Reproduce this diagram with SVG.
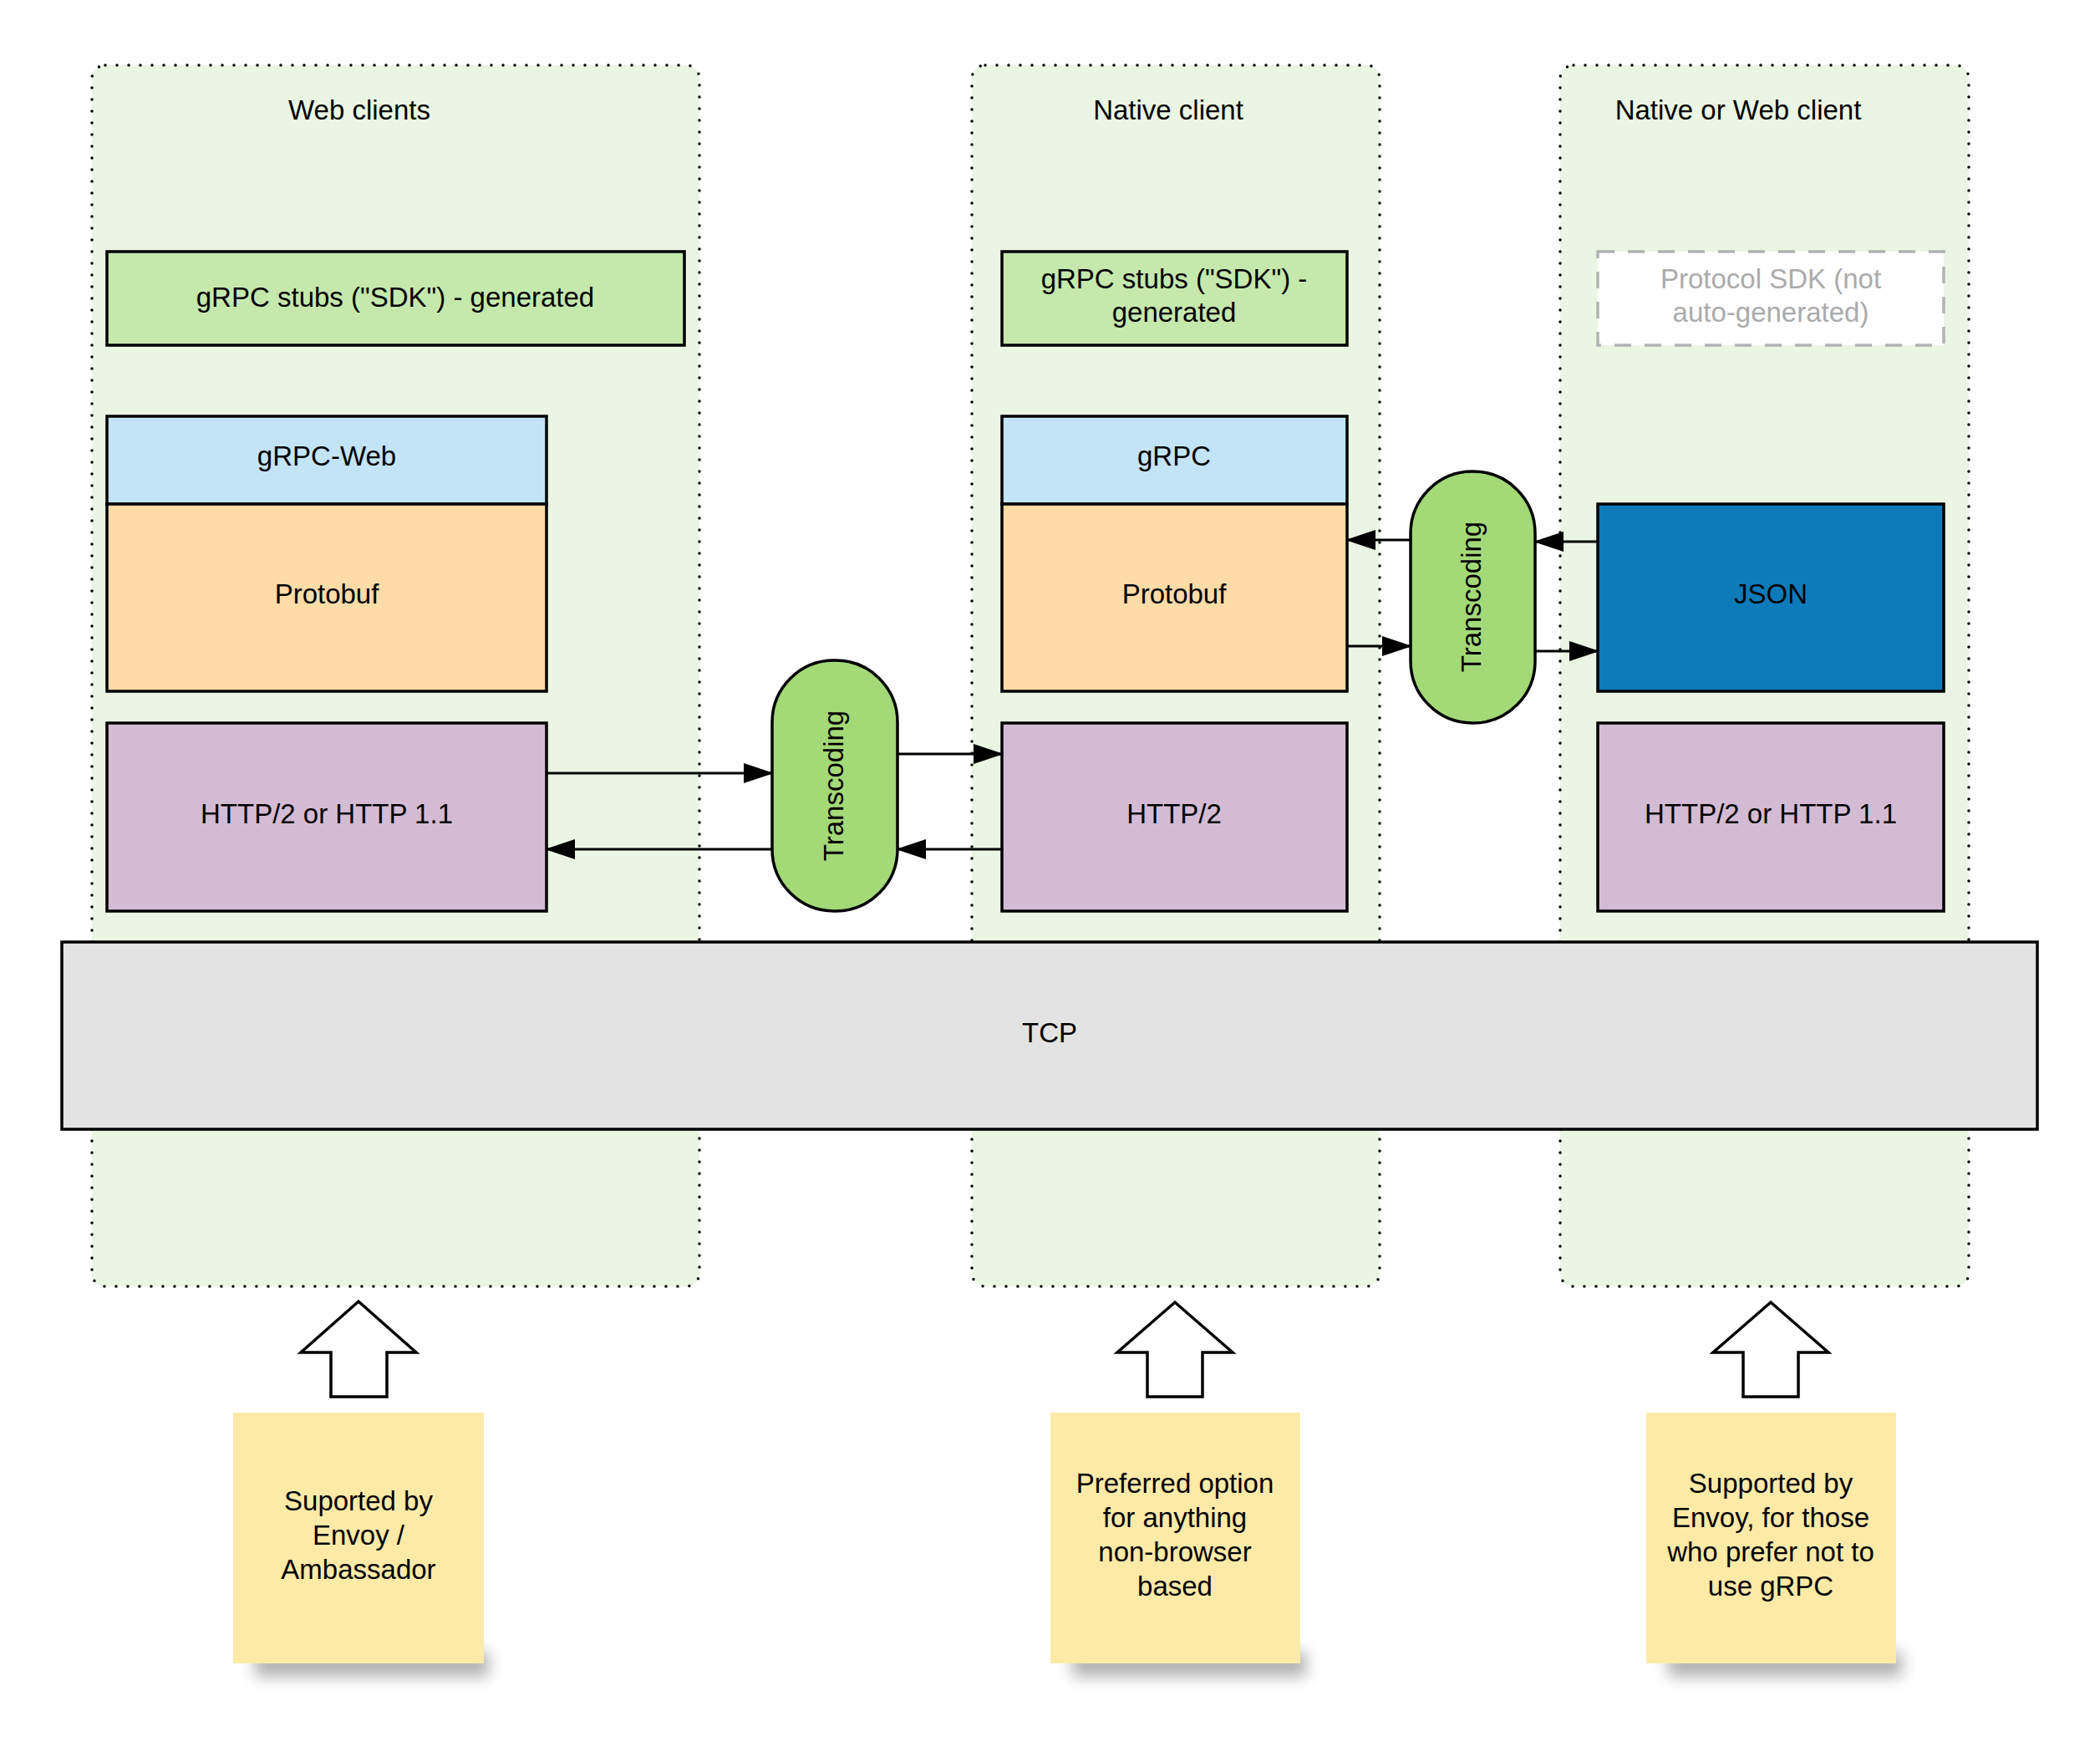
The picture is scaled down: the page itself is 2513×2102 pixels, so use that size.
<svg xmlns="http://www.w3.org/2000/svg" width="2513" height="2102" viewBox="0 0 2513 2102">
<style>
text{font-family:"Liberation Sans",Arial,sans-serif;font-size:33px;fill:#000;text-anchor:middle;dominant-baseline:central}
.cont{fill:#ebf5e3;stroke:#000;stroke-width:3.5;stroke-dasharray:0 14;stroke-linecap:round}
.box{stroke:#000;stroke-width:3.5}
.stub{fill:#c5e8ad}
.blue{fill:#c3e4f7}
.proto{fill:#fedba7}
.http{fill:#d3bcd3}
.json{fill:#0d7bba}
.trans{fill:#a3d977;stroke:#000;stroke-width:3.5}
.tcp{fill:#e3e3e3}
.note{fill:#feeaa7}
.big{fill:#fff;stroke:#000;stroke-width:3.5;stroke-linejoin:miter}
.conn{stroke:#000;stroke-width:3;fill:none;marker-end:url(#ah)}
.shadow{fill:#000;opacity:0.3}
</style>
<defs>
<marker id="ah" markerUnits="userSpaceOnUse" markerWidth="36" markerHeight="24" refX="34" refY="12" orient="auto">
<path d="M0,0 L36,12 L0,24 z" fill="#000"/>
</marker>
<filter id="blur" x="-20%" y="-100%" width="140%" height="300%"><feGaussianBlur stdDeviation="9"/></filter>
</defs>
<rect width="2513" height="2102" fill="#fff"/>

<g id="container-web">
<rect class="cont" x="110" y="78" width="727" height="1461" rx="16"/>
<text x="430" y="131">Web clients</text>
</g>
<g id="container-native">
<rect class="cont" x="1163" y="78" width="488" height="1461" rx="16"/>
<text x="1398" y="131">Native client</text>
</g>
<g id="container-nativeweb">
<rect class="cont" x="1867" y="78" width="489" height="1461" rx="16"/>
<text x="2080" y="131">Native or Web client</text>
</g>

<g id="stubs-web">
<rect class="box stub" x="128" y="301" width="691" height="112"/>
<text x="473" y="355">gRPC stubs ("SDK") - generated</text>
</g>
<g id="stubs-native">
<rect class="box stub" x="1199" y="301" width="413" height="112"/>
<text x="1405" y="333">gRPC stubs ("SDK") -</text>
<text x="1405" y="373">generated</text>
</g>
<g id="protocol-sdk">
<rect x="1912" y="301" width="414" height="112" fill="#fff" stroke="#b3b3b3" stroke-width="3.5" stroke-dasharray="20 16"/>
<text x="2119" y="333" style="fill:#ababab">Protocol SDK (not</text>
<text x="2119" y="373" style="fill:#ababab">auto-generated)</text>
</g>

<g id="grpc-web">
<rect class="box blue" x="128" y="498" width="526" height="105"/>
<text x="391" y="545">gRPC-Web</text>
</g>
<g id="protobuf-web">
<rect class="box proto" x="128" y="603" width="526" height="224"/>
<text x="391" y="710">Protobuf</text>
</g>
<g id="http-web">
<rect class="box http" x="128" y="865" width="526" height="225"/>
<text x="391" y="973">HTTP/2 or HTTP 1.1</text>
</g>

<g id="grpc-native">
<rect class="box blue" x="1199" y="498" width="413" height="105"/>
<text x="1405" y="545">gRPC</text>
</g>
<g id="protobuf-native">
<rect class="box proto" x="1199" y="603" width="413" height="224"/>
<text x="1405" y="710">Protobuf</text>
</g>
<g id="http-native">
<rect class="box http" x="1199" y="865" width="413" height="225"/>
<text x="1405" y="973">HTTP/2</text>
</g>

<g id="json">
<rect class="box json" x="1912" y="603" width="414" height="224"/>
<text x="2119" y="710">JSON</text>
</g>
<g id="http-nativeweb">
<rect class="box http" x="1912" y="865" width="414" height="225"/>
<text x="2119" y="973">HTTP/2 or HTTP 1.1</text>
</g>

<g id="transcoding-1">
<rect class="trans" x="924" y="790" width="150" height="300" rx="74" ry="74"/>
<text x="997" y="940" transform="rotate(-90 997 940)">Transcoding</text>
</g>
<g id="transcoding-2">
<rect class="trans" x="1688" y="564" width="149" height="301" rx="74" ry="74"/>
<text x="1760" y="714" transform="rotate(-90 1760 714)">Transcoding</text>
</g>

<g id="tcp">
<rect class="box tcp" x="74" y="1127" width="2364" height="224"/>
<text x="1256" y="1235">TCP</text>
</g>

<g id="connectors">
<path class="conn" d="M654,925 L924,925"/>
<path class="conn" d="M1074,902 L1199,902"/>
<path class="conn" d="M1199,1016 L1074,1016"/>
<path class="conn" d="M924,1016 L654,1016"/>
<path class="conn" d="M1688,646 L1612,646"/>
<path class="conn" d="M1912,648 L1837,648"/>
<path class="conn" d="M1612,773 L1688,773"/>
<path class="conn" d="M1837,779 L1912,779"/>
</g>

<g id="up-arrow-1">
<path class="big" d="M429,1557 L498,1618 L463,1618 L463,1671 L396,1671 L396,1618 L360,1618 Z"/>
</g>
<g id="up-arrow-2">
<path class="big" d="M1406,1558 L1475,1618 L1439,1618 L1439,1671 L1373,1671 L1373,1618 L1337,1618 Z"/>
</g>
<g id="up-arrow-3">
<path class="big" d="M2119,1558 L2188,1618 L2152,1618 L2152,1671 L2086,1671 L2086,1618 L2050,1618 Z"/>
</g>

<g id="note-1">
<rect class="shadow" x="305" y="1976" width="280" height="30" filter="url(#blur)"/>
<rect class="note" x="279" y="1690" width="300" height="300"/>
<text x="429" y="1795">Suported by</text>
<text x="429" y="1836">Envoy /</text>
<text x="429" y="1877">Ambassador</text>
</g>
<g id="note-2">
<rect class="shadow" x="1283" y="1976" width="280" height="30" filter="url(#blur)"/>
<rect class="note" x="1257" y="1690" width="299" height="300"/>
<text x="1406" y="1774">Preferred option</text>
<text x="1406" y="1815">for anything</text>
<text x="1406" y="1856">non-browser</text>
<text x="1406" y="1897">based</text>
</g>
<g id="note-3">
<rect class="shadow" x="1996" y="1976" width="280" height="30" filter="url(#blur)"/>
<rect class="note" x="1970" y="1690" width="299" height="300"/>
<text x="2119" y="1774">Supported by</text>
<text x="2119" y="1815">Envoy, for those</text>
<text x="2119" y="1856">who prefer not to</text>
<text x="2119" y="1897">use gRPC</text>
</g>
</svg>
